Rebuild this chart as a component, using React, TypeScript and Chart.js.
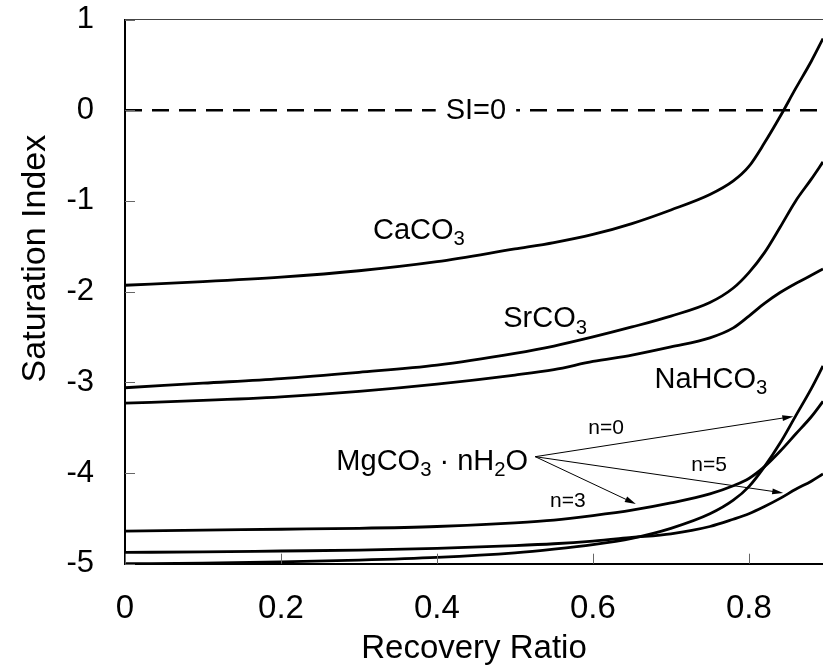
import React, { useEffect, useRef } from "react";
import { Chart, registerables } from "chart.js";

Chart.register(...registerables);

// ---- data ----
const recovery = [0, 0.1, 0.2, 0.3, 0.4, 0.5, 0.55, 0.6, 0.65, 0.7, 0.75, 0.78, 0.8, 0.82, 0.84, 0.86, 0.88, 0.895];
const caco3 = [-1.93, -1.89, -1.84, -1.77, -1.67, -1.53, -1.46, -1.37, -1.25, -1.1, -0.93, -0.78, -0.62, -0.36, -0.07, 0.24, 0.54, 0.79];
const srco3 = [-3.06, -3.01, -2.96, -2.89, -2.81, -2.68, -2.6, -2.5, -2.39, -2.27, -2.12, -1.96, -1.79, -1.57, -1.29, -1.0, -0.76, -0.57];
const nahco3 = [-3.23, -3.2, -3.16, -3.1, -3.02, -2.92, -2.86, -2.77, -2.7, -2.61, -2.51, -2.4, -2.27, -2.13, -2.01, -1.91, -1.82, -1.75];
const mgN3 = [-4.64, -4.63, -4.62, -4.61, -4.59, -4.55, -4.52, -4.47, -4.41, -4.33, -4.23, -4.14, -4.06, -3.93, -3.76, -3.57, -3.38, -3.21];
const mgN5 = [-4.875, -4.87, -4.86, -4.85, -4.83, -4.8, -4.78, -4.75, -4.71, -4.67, -4.59, -4.51, -4.45, -4.37, -4.28, -4.18, -4.09, -4.01];
const mgN0 = [-5.0, -4.995, -4.98, -4.96, -4.93, -4.88, -4.84, -4.79, -4.72, -4.61, -4.45, -4.3, -4.15, -3.93, -3.67, -3.37, -3.07, -2.82];
const siLineX = [0, 0.895];
const siLineY = [0, 0];

const xTicks = [0, 0.2, 0.4, 0.6, 0.8];
const yTicks = [-5, -4, -3, -2, -1, 0, 1];
const xMin = 0;
const xMax = 0.895;
const yMin = -5;
const yMax = 1;

// ---- annotations (data coordinates) ----
const FONT = '"Liberation Sans", Arial, Helvetica, sans-serif';
const chemLabels = [
  { parts: [{ t: "CaCO" }, { t: "3", sub: true }], x: 0.318, y: -1.42 },
  { parts: [{ t: "SrCO" }, { t: "3", sub: true }], x: 0.485, y: -2.395 },
  { parts: [{ t: "NaHCO" }, { t: "3", sub: true }], x: 0.679, y: -3.063 },
  {
    parts: [{ t: "MgCO" }, { t: "3", sub: true }, { t: " · nH" }, { t: "2", sub: true }, { t: "O" }],
    x: 0.271,
    y: -3.967,
  },
];
const nLabels = [
  { t: "n=0", x: 0.594, y: -3.567 },
  { t: "n=5", x: 0.726, y: -3.975 },
  { t: "n=3", x: 0.545, y: -4.379 },
];
const arrowStart = { x: 0.526, y: -3.82 };
const arrowTips = [
  { x: 0.857, y: -3.376 },
  { x: 0.844, y: -4.22 },
  { x: 0.655, y: -4.342 },
];
const siText = "SI=0";
const siTextX = 0.45;

function toPts(xs: number[], ys: number[]) {
  return xs.map((x, i) => ({ x, y: ys[i] }));
}

function drawRich(ctx: CanvasRenderingContext2D, parts: any[], x: number, y: number, size: number) {
  let cx = x;
  for (const p of parts) {
    const fs = p.sub ? size * 0.7 : size;
    ctx.font = `${fs}px ${FONT}`;
    ctx.fillText(p.t, cx, p.sub ? y + size * 0.21 : y);
    cx += ctx.measureText(p.t).width;
  }
}

const overlay = {
  id: "overlay",
  afterDatasetsDraw(chart: any) {
    const { ctx, chartArea: a, scales } = chart;
    const xs = scales.x;
    const ys = scales.y;
    ctx.save();
    // top frame line
    ctx.strokeStyle = "#444";
    ctx.lineWidth = 1.2;
    ctx.beginPath();
    ctx.moveTo(a.left, a.top);
    ctx.lineTo(a.right, a.top);
    ctx.stroke();
    // inward ticks
    ctx.strokeStyle = "#666";
    ctx.lineWidth = 1;
    ctx.beginPath();
    for (const v of yTicks) {
      const py = Math.round(ys.getPixelForValue(v)) + 0.5;
      ctx.moveTo(a.left, py);
      ctx.lineTo(a.left + 10, py);
    }
    for (const v of xTicks) {
      const px = Math.round(xs.getPixelForValue(v)) + 0.5;
      ctx.moveTo(px, a.bottom);
      ctx.lineTo(px, a.bottom - 10);
    }
    ctx.stroke();

    // SI=0 label with white gap
    ctx.font = `29px ${FONT}`;
    const w = ctx.measureText(siText).width;
    const cx = xs.getPixelForValue(siTextX);
    const cy = ys.getPixelForValue(0);
    ctx.fillStyle = "#fff";
    ctx.fillRect(cx - w / 2 - 10, cy - 6, w + 20, 12);
    ctx.fillStyle = "#000";
    ctx.textAlign = "center";
    ctx.textBaseline = "middle";
    ctx.fillText(siText, cx, cy + 1);

    // chemical labels
    ctx.textAlign = "left";
    ctx.textBaseline = "alphabetic";
    for (const l of chemLabels) {
      drawRich(ctx, l.parts, xs.getPixelForValue(l.x), ys.getPixelForValue(l.y), 29);
    }
    ctx.font = `21px ${FONT}`;
    for (const l of nLabels) {
      ctx.fillText(l.t, xs.getPixelForValue(l.x), ys.getPixelForValue(l.y));
    }

    // arrows
    const sx = xs.getPixelForValue(arrowStart.x);
    const sy = ys.getPixelForValue(arrowStart.y);
    ctx.strokeStyle = "#000";
    ctx.lineWidth = 1;
    for (const t of arrowTips) {
      const tx = xs.getPixelForValue(t.x);
      const ty = ys.getPixelForValue(t.y);
      const ang = Math.atan2(ty - sy, tx - sx);
      ctx.beginPath();
      ctx.moveTo(sx, sy);
      ctx.lineTo(tx - Math.cos(ang) * 8, ty - Math.sin(ang) * 8);
      ctx.stroke();
      ctx.beginPath();
      ctx.moveTo(tx, ty);
      ctx.lineTo(tx - Math.cos(ang) * 11 + Math.sin(ang) * 3, ty - Math.sin(ang) * 11 - Math.cos(ang) * 3);
      ctx.lineTo(tx - Math.cos(ang) * 11 - Math.sin(ang) * 3, ty - Math.sin(ang) * 11 + Math.cos(ang) * 3);
      ctx.closePath();
      ctx.fillStyle = "#000";
      ctx.fill();
    }

    // y axis title
    ctx.save();
    ctx.translate(36, (a.top + a.bottom) / 2 - 33);
    ctx.rotate(-Math.PI / 2);
    ctx.font = `34px ${FONT}`;
    ctx.textAlign = "center";
    ctx.textBaseline = "middle";
    ctx.fillStyle = "#000";
    ctx.fillText("Saturation Index", 0, 0);
    ctx.restore();

    ctx.restore();
  },
};

export default function App() {
  const ref = useRef<HTMLCanvasElement>(null);
  useEffect(() => {
    const canvas = ref.current!;
    const curve = (data: number[]) => ({
      data: toPts(recovery, data),
      borderColor: "#000",
      borderWidth: 2.8,
      pointRadius: 0,
      fill: false,
      cubicInterpolationMode: "monotone" as const,
    });
    const chart = new Chart(canvas, {
      type: "line",
      data: {
        datasets: [
          {
            data: toPts(siLineX, siLineY),
            borderColor: "#000",
            borderWidth: 2.6,
            borderDash: [17, 10],
            pointRadius: 0,
            fill: false,
          },
          curve(caco3),
          curve(srco3),
          curve(nahco3),
          curve(mgN3),
          curve(mgN5),
          curve(mgN0),
        ],
      },
      options: {
        animation: false,
        responsive: false,
        devicePixelRatio: 1,
        layout: { padding: { top: 19.5, right: 0, bottom: 0, left: 0 } },
        plugins: { legend: { display: false }, tooltip: { enabled: false } },
        scales: {
          x: {
            type: "linear",
            min: xMin,
            max: xMax,
            afterBuildTicks: (s: any) => {
              s.ticks = xTicks.map((v) => ({ value: v }));
            },
            afterFit: (s: any) => {
              s.height = 107.3;
              s.paddingLeft = 0;
              s.paddingRight = 0;
            },
            grid: { display: false, drawTicks: false },
            border: { display: true, color: "#000", width: 2 },
            ticks: {
              padding: 25.5,
              color: "#000",
              font: { family: FONT, size: 33 },
              callback: (v: any) => String(v),
            },
            title: {
              display: true,
              text: "Recovery Ratio",
              color: "#000",
              font: { family: FONT, size: 33 },
              padding: { top: 0, bottom: 2 },
            },
          },
          y: {
            type: "linear",
            min: yMin,
            max: yMax,
            afterBuildTicks: (s: any) => {
              s.ticks = yTicks.map((v) => ({ value: v }));
            },
            afterFit: (s: any) => {
              s.width = 125;
              s.paddingTop = 0;
              s.paddingBottom = 0;
            },
            grid: { display: false, drawTicks: false },
            border: { display: true, color: "#000", width: 2 },
            ticks: {
              padding: 31,
              color: "#000",
              font: { family: FONT, size: 31 },
              callback: (v: any) => String(v),
            },
          },
        },
      },
      plugins: [overlay],
    });
    return () => chart.destroy();
  }, []);
  return (
    <div style={{ position: "absolute", left: 0, top: 0, width: 823, height: 671, overflow: "hidden", background: "#fff" }}>
      <canvas ref={ref} width={823} height={671} />
    </div>
  );
}
